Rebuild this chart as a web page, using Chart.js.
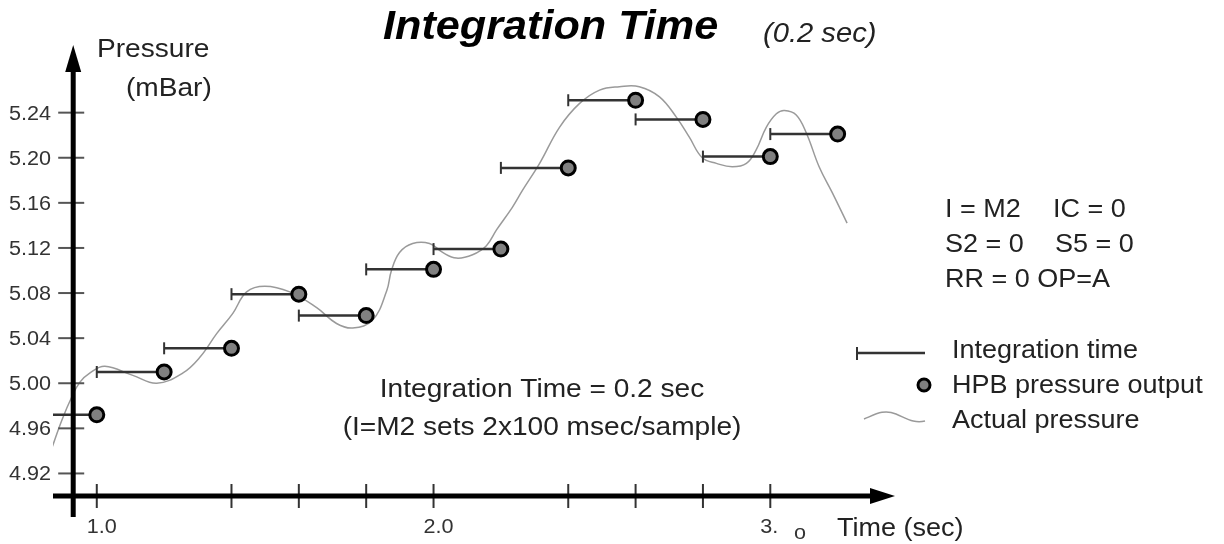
<!DOCTYPE html>
<html>
<head>
<meta charset="utf-8">
<script src="https://cdn.jsdelivr.net/npm/chart.js@4.4.1/dist/chart.umd.min.js"></script>
<style>
  html, body { margin: 0; padding: 0; background: #fff; }
  #wrap { width: 1224px; height: 544px; position: relative; }
</style>
</head>
<body>
<div id="wrap"><canvas id="pressureChart" width="1224" height="544"></canvas></div>
<script>
// HPB pressure output, one sample at the end of each 0.2 sec window
const sampleTimes = [1.0, 1.2, 1.4, 1.6, 1.8, 2.0, 2.2, 2.4, 2.6, 2.8, 3.0, 3.2];
const windowStarts = [0.8, 1.0, 1.2, 1.4, 1.6, 1.8, 2.0, 2.2, 2.4, 2.6, 2.8, 3.0];
const hpbOutput = [4.972, 5.010, 5.031, 5.079, 5.060, 5.101, 5.119, 5.191, 5.251, 5.234, 5.201, 5.221];

// Actual pressure trace
const actualTime = [0.866, 0.896, 0.926, 0.950, 0.979, 1.024, 1.107, 1.178, 1.255, 1.306, 1.356, 1.404,
  1.445, 1.499, 1.573, 1.653, 1.712, 1.760, 1.819, 1.861, 1.875, 1.899, 1.938, 1.988, 2.027, 2.068,
  2.116, 2.157, 2.187, 2.234, 2.264, 2.315, 2.374, 2.433, 2.493, 2.552, 2.611, 2.671, 2.721, 2.760,
  2.798, 2.840, 2.887, 2.929, 2.958, 2.988, 3.018, 3.042, 3.077, 3.107, 3.145, 3.184, 3.228];
const actualPressure = [4.942, 4.967, 4.988, 5.001, 5.009, 5.015, 5.007, 5.000, 5.009, 5.023, 5.044, 5.062,
  5.081, 5.086, 5.081, 5.067, 5.053, 5.049, 5.056, 5.082, 5.100, 5.116, 5.124, 5.124, 5.116, 5.111,
  5.114, 5.122, 5.136, 5.156, 5.171, 5.195, 5.227, 5.248, 5.260, 5.263, 5.263, 5.254, 5.236, 5.218,
  5.200, 5.195, 5.192, 5.195, 5.207, 5.227, 5.239, 5.242, 5.238, 5.222, 5.192, 5.169, 5.142];

// Axis ticks
const yTicks = [4.92, 4.96, 5.00, 5.04, 5.08, 5.12, 5.16, 5.20, 5.24];
const yTickLabels = ["4.92", "4.96", "5.00", "5.04", "5.08", "5.12", "5.16", "5.20", "5.24"];
const xTicks = [1.0, 1.4, 1.6, 1.8, 2.0, 2.4, 2.6, 2.8, 3.0];
const xLabelValues = [1.0, 2.0, 3.0];
const xLabels = ["1.0", "2.0", "3."];

const FONT = "Arial, 'Liberation Sans', sans-serif";
const SX = 1.08;

// build the pieces Chart.js needs
const outputPoints = sampleTimes.map((t, i) => ({ x: t, y: hpbOutput[i] }));
const windowPoints = [];
windowStarts.forEach((s, i) => {
  windowPoints.push({ x: s, y: hpbOutput[i] });
  windowPoints.push({ x: sampleTimes[i], y: hpbOutput[i] });
  windowPoints.push({ x: sampleTimes[i], y: null });
});
const actualPoints = actualTime.map((t, i) => ({ x: t, y: actualPressure[i] }));

function drawText(ctx, str, x, y, font, align) {
  ctx.save();
  ctx.font = font;
  ctx.textAlign = align || "left";
  ctx.textBaseline = "alphabetic";
  ctx.translate(x, y);
  ctx.scale(SX, 1);
  ctx.fillText(str, 0, 0);
  ctx.restore();
}

const axesPlugin = {
  id: "axesPlugin",
  afterDatasetsDraw(chart) {
    const ctx = chart.ctx;
    const xs = chart.scales.x;
    const ys = chart.scales.y;
    const area = chart.chartArea;
    const axisX = xs.getPixelForValue(0.93);
    const axisY = ys.getPixelForValue(4.90);

    ctx.save();
    // y ticks
    ctx.strokeStyle = "#555";
    ctx.lineWidth = 2;
    yTicks.forEach(v => {
      const py = ys.getPixelForValue(v);
      ctx.beginPath();
      ctx.moveTo(axisX - 15, py);
      ctx.lineTo(axisX + 11, py);
      ctx.stroke();
    });
    // x ticks
    ctx.strokeStyle = "#333";
    xTicks.forEach(v => {
      const px = xs.getPixelForValue(v);
      ctx.beginPath();
      ctx.moveTo(px, axisY - 12);
      ctx.lineTo(px, axisY + 12);
      ctx.stroke();
    });

    // main axes
    ctx.strokeStyle = "#000";
    ctx.fillStyle = "#000";
    ctx.lineWidth = 5;
    ctx.beginPath();
    ctx.moveTo(area.left, axisY);
    ctx.lineTo(area.right - 30, axisY);
    ctx.stroke();
    ctx.beginPath();
    ctx.moveTo(area.right - 35, axisY - 8);
    ctx.lineTo(area.right - 10, axisY);
    ctx.lineTo(area.right - 35, axisY + 8);
    ctx.closePath();
    ctx.fill();

    ctx.beginPath();
    ctx.moveTo(axisX, axisY + 21);
    ctx.lineTo(axisX, area.top + 22);
    ctx.stroke();
    ctx.beginPath();
    ctx.moveTo(axisX - 8, area.top + 27);
    ctx.lineTo(axisX, area.top);
    ctx.lineTo(axisX + 8, area.top + 27);
    ctx.closePath();
    ctx.fill();
    ctx.restore();
  },
  afterDraw(chart) {
    const ctx = chart.ctx;
    const xs = chart.scales.x;
    const ys = chart.scales.y;
    ctx.save();
    ctx.fillStyle = "#333";

    // y tick labels
    yTicks.forEach((v, i) => {
      drawText(ctx, yTickLabels[i], 9, ys.getPixelForValue(v) + 7, "20px " + FONT);
    });
    // x tick labels
    xLabelValues.forEach((v, i) => {
      drawText(ctx, xLabels[i], xs.getPixelForValue(v) - 10, 533, "20px " + FONT);
    });
    drawText(ctx, "o", 794, 539, "20px " + FONT);

    ctx.fillStyle = "#222";
    drawText(ctx, "Time (sec)", 837, 536, "25px " + FONT);
    drawText(ctx, "Pressure", 97, 57, "26px " + FONT);
    drawText(ctx, "(mBar)", 126, 96, "26px " + FONT);

    // title
    ctx.fillStyle = "#000";
    drawText(ctx, "Integration Time", 383, 39, "italic bold 40px " + FONT);
    ctx.fillStyle = "#222";
    drawText(ctx, "(0.2 sec)", 763, 42, "italic 27px " + FONT);

    // note in the middle
    drawText(ctx, "Integration Time = 0.2 sec", 542, 397, "26px " + FONT, "center");
    drawText(ctx, "(I=M2 sets 2x100 msec/sample)", 542, 435, "26px " + FONT, "center");

    // settings
    drawText(ctx, "I = M2", 945, 217, "25px " + FONT);
    drawText(ctx, "IC = 0", 1053, 217, "25px " + FONT);
    drawText(ctx, "S2 = 0", 945, 252, "25px " + FONT);
    drawText(ctx, "S5 = 0", 1055, 252, "25px " + FONT);
    drawText(ctx, "RR = 0 OP=A", 945, 287, "25px " + FONT);

    // legend
    drawText(ctx, "Integration time", 952, 358, "25px " + FONT);
    drawText(ctx, "HPB pressure output", 952, 393, "25px " + FONT);
    drawText(ctx, "Actual pressure", 952, 428, "25px " + FONT);

    ctx.strokeStyle = "#333";
    ctx.lineWidth = 2.5;
    ctx.beginPath();
    ctx.moveTo(857, 353);
    ctx.lineTo(925, 353);
    ctx.stroke();
    ctx.lineWidth = 2;
    ctx.beginPath();
    ctx.moveTo(857, 347);
    ctx.lineTo(857, 360);
    ctx.stroke();

    ctx.fillStyle = "#808080";
    ctx.strokeStyle = "#000";
    ctx.lineWidth = 3;
    ctx.beginPath();
    ctx.arc(924, 385, 6, 0, Math.PI * 2);
    ctx.fill();
    ctx.stroke();

    ctx.strokeStyle = "#9a9a9a";
    ctx.lineWidth = 1.5;
    ctx.beginPath();
    ctx.moveTo(864, 419);
    ctx.bezierCurveTo(876, 414, 884, 409, 896, 414);
    ctx.bezierCurveTo(906, 418, 914, 424, 925, 421);
    ctx.stroke();
    ctx.restore();
  }
};

new Chart(document.getElementById("pressureChart"), {
  type: "scatter",
  data: {
    datasets: [
      {
        label: "HPB pressure output",
        data: outputPoints,
        order: 0,
        pointRadius: 7,
        pointBorderWidth: 3,
        pointBackgroundColor: "#808080",
        pointBorderColor: "#000"
      },
      {
        label: "Integration time",
        data: windowPoints,
        order: 1,
        showLine: true,
        spanGaps: false,
        borderColor: "#333",
        borderWidth: 2.5,
        pointStyle: "line",
        pointRotation: 90,
        pointRadius: ctx => (ctx.dataIndex % 3 === 0 ? 6 : 0),
        pointBorderWidth: 2,
        pointBorderColor: "#333"
      },
      {
        label: "Actual pressure",
        data: actualPoints,
        order: 2,
        showLine: true,
        borderColor: "#9a9a9a",
        borderWidth: 1.5,
        pointRadius: 0,
        tension: 0.4
      }
    ]
  },
  options: {
    responsive: false,
    animation: false,
    layout: { padding: { left: 53, right: 319, top: 45, bottom: 48 } },
    scales: {
      x: { type: "linear", min: 0.87, max: 3.40, display: false },
      y: { type: "linear", min: 4.90, max: 5.30, display: false }
    },
    plugins: {
      legend: { display: false },
      tooltip: { enabled: false }
    }
  },
  plugins: [axesPlugin]
});
</script>
</body>
</html>
